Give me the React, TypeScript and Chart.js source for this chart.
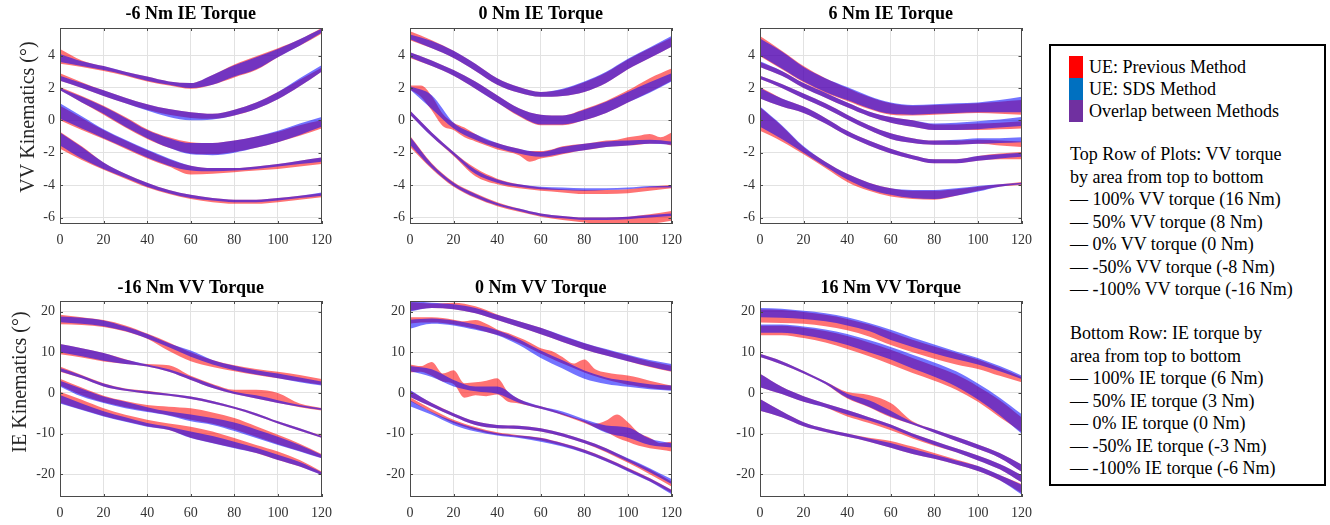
import React, { useEffect, useRef } from "react";
import { Chart, registerables } from "chart.js";

Chart.register(...registerables);

// ---------- shared axes ----------
const X10 = [0, 10, 20, 30, 40, 50, 60, 70, 80, 90, 100, 110, 120];
const X5 = [0, 5, 10, 15, 20, 25, 30, 35, 40, 45, 50, 55, 60, 65, 70, 75, 80, 85, 90, 95, 100, 105, 110, 115, 120];
const X_TICKS = [0, 20, 40, 60, 80, 100, 120];
const VV_TICKS = [-6, -4, -2, 0, 2, 4];
const IE_TICKS = [-20, -10, 0, 10, 20];

const PANEL_TITLES = ["-6 Nm IE Torque", "0 Nm IE Torque", "6 Nm IE Torque", "-16 Nm VV Torque", "0 Nm VV Torque", "16 Nm VV Torque"];
const Y_TITLES = ["VV Kinematics (°)", "IE Kinematics (°)"];

// ---------- Panel A: -6 Nm IE torque (VV kinematics) ----------
const A_RED_LO = [
  [3.5, 3.3, 3.05, 2.75, 2.4, 2.15, 1.95, 2.2, 2.65, 3.1, 3.9, 4.6, 5.35],
  [2.45, 2.0, 1.5, 1.05, 0.65, 0.35, 0.15, 0.1, 0.3, 0.7, 1.3, 2.1, 3.0],
  [1.85, 1.1, 0.35, -0.45, -1.15, -1.7, -2.05, -2.1, -1.95, -1.7, -1.35, -0.95, -0.5],
  [0.0, -0.6, -1.15, -1.75, -2.35, -2.85, -3.35, -3.3, -3.2, -3.1, -3.0, -2.85, -2.7],
  [-1.75, -2.45, -3.05, -3.6, -4.15, -4.55, -4.85, -5.05, -5.15, -5.15, -5.05, -4.9, -4.75],
];
const A_RED_HI = [
  [4.4, 3.7, 3.35, 3.0, 2.7, 2.4, 2.3, 2.8, 3.45, 3.95, 4.45, 5.0, 5.7],
  [2.9, 2.35, 1.85, 1.4, 1.0, 0.7, 0.5, 0.4, 0.65, 1.1, 1.75, 2.5, 3.25],
  [2.05, 1.5, 0.9, 0.2, -0.55, -1.05, -1.35, -1.4, -1.25, -1.0, -0.7, -0.3, 0.0],
  [0.9, 0.15, -0.6, -1.25, -1.85, -2.4, -2.8, -2.95, -2.95, -2.85, -2.7, -2.5, -2.3],
  [-0.7, -1.6, -2.6, -3.3, -3.85, -4.3, -4.6, -4.8, -4.9, -4.9, -4.8, -4.65, -4.5],
];
const A_BLUE_LO = [
  [3.6, 3.35, 3.1, 2.8, 2.45, 2.2, 2.0, 2.2, 2.7, 3.15, 3.9, 4.6, 5.4],
  [2.45, 2.0, 1.5, 1.05, 0.6, 0.2, 0.0, 0.05, 0.3, 0.7, 1.3, 2.1, 3.0],
  [1.85, 1.1, 0.4, -0.4, -1.1, -1.7, -2.1, -2.15, -2.0, -1.7, -1.35, -0.9, -0.4],
  [0.1, -0.5, -1.1, -1.7, -2.3, -2.8, -3.1, -3.15, -3.1, -3.0, -2.85, -2.7, -2.55],
  [-1.55, -2.35, -3.0, -3.55, -4.1, -4.5, -4.8, -4.95, -5.05, -5.05, -4.95, -4.8, -4.65],
];
const A_BLUE_HI = [
  [4.1, 3.65, 3.35, 3.0, 2.7, 2.4, 2.3, 2.8, 3.4, 3.9, 4.4, 5.0, 5.65],
  [2.75, 2.3, 1.85, 1.4, 1.0, 0.7, 0.5, 0.4, 0.65, 1.1, 1.75, 2.6, 3.4],
  [2.0, 1.45, 0.85, 0.15, -0.6, -1.1, -1.4, -1.4, -1.25, -1.0, -0.65, -0.2, 0.2],
  [1.05, 0.25, -0.55, -1.2, -1.8, -2.35, -2.8, -2.95, -2.95, -2.85, -2.7, -2.5, -2.3],
  [-0.75, -1.65, -2.6, -3.3, -3.85, -4.3, -4.6, -4.8, -4.9, -4.9, -4.8, -4.65, -4.45],
];

// ---------- Panel B: 0 Nm IE torque (VV kinematics) ----------
const B_RED_LO = [
  [4.95, 4.45, 3.85, 3.05, 2.2, 1.7, 1.45, 1.5, 1.75, 2.3, 3.15, 3.85, 4.55],
  [3.85, 3.35, 2.75, 1.95, 1.1, 0.25, -0.3, -0.3, 0.0, 0.45, 1.1, 1.75, 2.45],
  [1.9, 1.45, 0.6, -0.35, -0.6, -1.05, -1.3, -1.55, -1.8, -1.95, -2.15, -2.55, -2.35, -2.25, -2.1, -1.95, -1.85, -1.75, -1.65, -1.6, -1.55, -1.5, -1.45, -1.45, -1.55],
  [0.35, -1.0, -2.2, -3.45, -3.95, -4.2, -4.35, -4.45, -4.55, -4.55, -4.5, -4.35, -4.2],
  [-1.65, -3.0, -4.1, -4.8, -5.3, -5.65, -5.95, -6.15, -6.3, -6.45, -6.5, -6.4, -6.2],
];
const B_RED_HI = [
  [5.5, 4.95, 4.3, 3.5, 2.6, 2.05, 1.75, 1.9, 2.35, 2.95, 3.75, 4.45, 5.1],
  [4.2, 3.7, 3.1, 2.4, 1.55, 0.75, 0.35, 0.3, 0.7, 1.2, 1.85, 2.6, 3.2],
  [2.15, 2.15, 1.5, 0.4, -0.15, -0.45, -0.85, -1.2, -1.4, -1.6, -1.75, -1.9, -1.9, -1.8, -1.6, -1.5, -1.45, -1.35, -1.25, -1.2, -1.05, -0.95, -0.85, -1.05, -0.75],
  [0.6, -0.75, -1.95, -2.95, -3.6, -3.95, -4.15, -4.25, -4.3, -4.3, -4.25, -4.1, -4.0],
  [-0.95, -2.65, -3.8, -4.5, -5.05, -5.45, -5.75, -5.9, -6.0, -6.0, -5.95, -5.8, -5.6],
];
const B_BLUE_LO = [
  [5.0, 4.45, 3.85, 3.05, 2.2, 1.7, 1.45, 1.5, 1.75, 2.3, 3.15, 3.85, 4.55],
  [3.9, 3.35, 2.75, 1.95, 1.1, 0.3, -0.25, -0.25, 0.0, 0.45, 1.1, 1.7, 2.4],
  [1.9, 0.7, -0.5, -1.2, -1.7, -2.05, -2.25, -2.05, -1.85, -1.65, -1.55, -1.45, -1.5],
  [0.35, -1.0, -2.15, -3.3, -3.85, -4.1, -4.25, -4.3, -4.35, -4.3, -4.25, -4.15, -4.15],
  [-1.5, -2.95, -4.05, -4.75, -5.25, -5.6, -5.9, -6.05, -6.15, -6.15, -6.1, -6.0, -5.9],
];
const B_BLUE_HI = [
  [5.3, 4.9, 4.3, 3.5, 2.6, 2.05, 1.75, 1.95, 2.4, 3.0, 3.8, 4.5, 5.2],
  [4.2, 3.7, 3.1, 2.4, 1.55, 0.75, 0.35, 0.3, 0.65, 1.15, 1.75, 2.35, 2.9],
  [2.1, 1.55, -0.15, -0.85, -1.4, -1.75, -1.95, -1.65, -1.45, -1.3, -1.25, -1.2, -1.3],
  [0.6, -0.75, -1.95, -3.05, -3.65, -3.95, -4.1, -4.15, -4.2, -4.2, -4.15, -4.05, -4.05],
  [-1.0, -2.7, -3.85, -4.55, -5.1, -5.45, -5.75, -5.9, -6.0, -6.0, -5.95, -5.85, -5.75],
];

// ---------- Panel C: 6 Nm IE torque (VV kinematics) ----------
const C_RED_LO = [
  [3.95, 3.15, 2.35, 1.7, 1.2, 0.7, 0.35, 0.3, 0.35, 0.4, 0.45, 0.4, 0.35],
  [3.3, 2.75, 2.0, 1.4, 0.8, 0.25, -0.15, -0.4, -0.6, -0.6, -0.6, -0.55, -0.5],
  [2.55, 2.0, 1.35, 0.75, 0.05, -0.6, -1.15, -1.4, -1.5, -1.5, -1.45, -1.55, -1.65],
  [1.35, 0.85, 0.45, -0.2, -0.95, -1.55, -2.05, -2.4, -2.65, -2.65, -2.5, -2.4, -2.4],
  [-0.65, -1.3, -2.1, -2.95, -3.8, -4.35, -4.7, -4.85, -4.9, -4.65, -4.35, -4.1, -4.0],
];
const C_RED_HI = [
  [5.2, 4.3, 3.35, 2.6, 2.0, 1.45, 1.05, 0.9, 0.95, 1.0, 1.05, 1.15, 1.25],
  [3.6, 3.05, 2.3, 1.7, 1.1, 0.55, 0.2, 0.0, -0.25, -0.25, -0.2, -0.15, -0.05],
  [2.75, 2.25, 1.65, 1.05, 0.35, -0.3, -0.8, -1.1, -1.25, -1.25, -1.2, -1.25, -1.3],
  [2.05, 1.35, 0.85, 0.15, -0.65, -1.25, -1.75, -2.15, -2.4, -2.4, -2.2, -2.05, -1.95],
  [0.8, -0.35, -1.65, -2.55, -3.3, -3.85, -4.2, -4.35, -4.35, -4.25, -4.1, -3.95, -3.8],
];
const C_BLUE_LO = [
  [4.0, 3.2, 2.4, 1.75, 1.25, 0.75, 0.4, 0.35, 0.4, 0.45, 0.5, 0.5, 0.5],
  [3.3, 2.75, 2.0, 1.4, 0.8, 0.25, -0.15, -0.4, -0.6, -0.6, -0.55, -0.45, -0.35],
  [2.55, 2.0, 1.35, 0.75, 0.05, -0.6, -1.15, -1.4, -1.5, -1.5, -1.45, -1.4, -1.35],
  [1.35, 0.85, 0.45, -0.2, -0.95, -1.55, -2.05, -2.4, -2.65, -2.65, -2.5, -2.35, -2.25],
  [-0.4, -1.15, -2.0, -2.85, -3.65, -4.25, -4.6, -4.8, -4.85, -4.65, -4.4, -4.1, -3.95],
];
const C_BLUE_HI = [
  [5.05, 4.25, 3.3, 2.6, 2.05, 1.5, 1.1, 0.95, 1.0, 1.05, 1.1, 1.25, 1.45],
  [3.65, 3.05, 2.3, 1.7, 1.1, 0.55, 0.2, 0.0, -0.2, -0.15, -0.05, 0.05, 0.2],
  [2.75, 2.25, 1.65, 1.05, 0.35, -0.3, -0.8, -1.1, -1.25, -1.2, -1.1, -1.1, -1.05],
  [2.0, 1.35, 0.85, 0.15, -0.65, -1.25, -1.75, -2.15, -2.4, -2.4, -2.2, -2.1, -2.0],
  [0.85, -0.3, -1.6, -2.55, -3.3, -3.85, -4.2, -4.3, -4.3, -4.2, -4.05, -3.95, -3.85],
];

// ---------- Panel D: -16 Nm VV torque (IE kinematics) ----------
const D_RED_LO = [
  [16.9, 16.7, 16.2, 15.1, 13.3, 10.3, 7.8, 6.4, 5.3, 4.4, 3.6, 2.8, 2.0],
  [9.5, 8.7, 7.7, 7.1, 6.5, 5.2, 3.2, 1.2, -0.3, -1.4, -2.5, -3.5, -4.3],
  [5.2, 3.6, 1.6, 0.5, -0.2, -0.7, -1.5, -2.6, -3.9, -5.6, -7.5, -9.3, -11.0],
  [1.8, -0.6, -2.3, -3.5, -4.5, -5.5, -6.6, -7.6, -9.0, -10.8, -12.6, -14.3, -16.0],
  [-2.4, -4.1, -5.7, -7.0, -8.2, -9.1, -11.0, -12.3, -13.5, -14.8, -16.5, -18.1, -20.1],
];
const D_RED_HI = [
  [19.2, 18.6, 17.9, 16.6, 14.6, 12.4, 10.0, 8.1, 6.8, 5.9, 5.2, 4.4, 3.4],
  [12.0, 11.0, 9.8, 8.3, 7.1, 6.8, 4.2, 2.2, 0.8, 0.8, 0.0, -2.6, -3.7],
  [6.5, 4.4, 2.4, 1.1, 0.5, -0.2, -0.9, -2.0, -3.4, -5.0, -7.0, -8.7, -10.5],
  [3.5, 1.3, -0.7, -2.0, -3.0, -3.4, -3.8, -4.8, -6.2, -8.2, -10.3, -12.5, -15.0],
  [0.3, -1.7, -3.8, -5.4, -6.6, -7.5, -8.3, -9.5, -11.1, -12.8, -14.4, -16.5, -19.3],
];
const D_BLUE_LO = [
  [17.4, 17.0, 16.4, 15.2, 13.4, 11.2, 8.9, 7.0, 5.6, 4.5, 3.6, 2.6, 1.8],
  [10.0, 9.0, 7.9, 7.1, 6.5, 5.2, 3.2, 1.2, -0.3, -1.4, -2.5, -3.4, -4.2],
  [5.3, 3.6, 1.6, 0.5, -0.2, -0.7, -1.5, -2.6, -3.9, -5.6, -7.5, -9.3, -11.0],
  [1.6, -0.9, -2.5, -3.8, -4.7, -5.6, -7.0, -7.9, -9.4, -11.1, -12.8, -14.4, -16.1],
  [-2.6, -4.2, -5.8, -7.1, -8.3, -9.1, -11.1, -12.4, -13.6, -14.8, -16.5, -18.1, -20.2],
];
const D_BLUE_HI = [
  [18.8, 18.5, 17.8, 16.3, 14.5, 12.2, 10.4, 8.1, 6.7, 5.6, 4.8, 3.8, 2.8],
  [12.0, 11.0, 9.8, 8.2, 7.0, 5.8, 4.0, 2.0, 0.3, -0.6, -1.8, -3.0, -3.8],
  [6.1, 4.3, 2.3, 1.0, 0.4, -0.2, -0.9, -2.0, -3.4, -5.0, -7.0, -8.7, -10.6],
  [3.0, 1.0, -0.9, -2.2, -3.5, -4.6, -5.3, -6.2, -7.3, -9.0, -10.8, -12.8, -15.2],
  [-0.5, -2.6, -4.5, -6.0, -7.4, -8.3, -9.5, -10.6, -12.0, -13.5, -15.2, -17.0, -19.5],
];

// ---------- Panel E: 0 Nm VV torque (IE kinematics) ----------
const E_RED_LO = [
  [20.2, 20.9, 20.6, 19.6, 17.9, 16.2, 14.4, 12.5, 10.7, 9.2, 7.8, 6.4, 5.2],
  [17.0, 17.3, 17.3, 17.2, 16.8, 16.3, 15.8, 15.0, 14.3, 13.4, 12.3, 11.0, 9.6, 8.4, 7.2, 6.1, 5.0, 4.1, 3.3, 2.6, 2.0, 1.6, 1.2, 0.9, 0.7],
  [5.0, 5.2, 4.2, 2.8, 2.2, -1.2, -0.6, -0.8, -0.4, -2.2, -2.6, -3.2, -3.9, -4.6, -5.5, -6.4, -7.4, -8.5, -9.6, -11.0, -12.0, -13.0, -13.6, -14.0, -14.4],
  [-1.0, -3.4, -5.8, -7.9, -8.7, -8.9, -9.5, -10.7, -12.4, -14.6, -17.2, -20.0, -23.0],
  [-2.0, -4.8, -7.4, -9.1, -10.3, -10.9, -11.7, -13.0, -14.7, -16.8, -19.2, -21.7, -24.6],
];
const E_RED_HI = [
  [22.3, 22.0, 22.2, 21.3, 19.3, 17.6, 16.0, 14.0, 12.2, 10.6, 9.2, 7.8, 6.7],
  [18.6, 18.6, 18.6, 18.4, 18.0, 17.6, 17.9, 17.0, 15.6, 14.7, 13.6, 12.4, 11.0, 10.3, 8.8, 7.2, 8.2, 5.8, 5.0, 4.6, 4.3, 3.7, 3.0, 2.4, 1.8],
  [7.0, 6.6, 7.6, 4.8, 5.6, 2.4, 2.6, 3.0, 3.6, 0.2, -1.5, -2.6, -3.3, -4.1, -5.0, -6.0, -6.8, -7.6, -6.8, -5.3, -7.2, -9.8, -11.0, -12.3, -12.0],
  [0.5, -2.5, -5.0, -7.0, -7.9, -8.1, -8.7, -9.9, -11.6, -13.6, -16.2, -18.8, -21.8],
  [-1.1, -4.0, -6.6, -8.4, -9.7, -10.4, -11.0, -12.3, -13.9, -16.0, -18.4, -20.9, -23.8],
];
const E_BLUE_LO = [
  [20.0, 20.9, 20.6, 19.6, 17.9, 16.2, 14.4, 12.5, 10.7, 9.2, 7.8, 6.5, 5.3],
  [15.8, 17.0, 16.6, 15.5, 14.2, 11.8, 8.6, 6.0, 3.5, 2.2, 1.5, 0.9, 0.5],
  [5.3, 3.9, 1.6, 0.4, -0.2, -2.4, -3.9, -5.4, -7.2, -9.8, -11.0, -12.8, -13.4],
  [-1.0, -3.4, -5.8, -7.9, -8.7, -8.9, -9.5, -10.7, -12.4, -14.4, -16.9, -19.5, -22.4],
  [-3.3, -5.4, -7.9, -9.5, -10.5, -11.1, -12.0, -13.2, -14.8, -16.9, -19.3, -21.8, -24.9],
];
const E_BLUE_HI = [
  [22.6, 22.2, 21.8, 20.9, 19.2, 17.6, 16.0, 14.1, 12.3, 10.8, 9.4, 8.1, 7.1],
  [18.0, 18.3, 17.8, 16.8, 15.4, 13.2, 10.4, 8.0, 5.5, 3.8, 2.9, 2.1, 1.8],
  [6.6, 5.8, 3.2, 1.6, 1.6, -1.5, -3.3, -4.6, -6.5, -8.0, -8.5, -11.2, -12.4],
  [0.7, -2.5, -5.0, -7.0, -7.9, -8.1, -8.7, -9.9, -11.6, -13.6, -16.1, -18.5, -21.2],
  [-1.8, -4.7, -7.0, -8.7, -9.9, -10.5, -11.1, -12.4, -14.0, -16.1, -18.5, -21.0, -23.9],
];

// ---------- Panel F: 16 Nm VV torque (IE kinematics) ----------
const F_RED_LO = [
  [17.3, 17.2, 17.0, 16.4, 15.4, 13.9, 11.8, 10.0, 8.4, 7.0, 5.9, 4.2, 2.6],
  [14.2, 14.2, 13.5, 12.4, 10.8, 9.0, 7.0, 4.9, 3.0, 0.8, -2.2, -6.0, -9.6],
  [8.8, 7.0, 4.8, 2.2, -1.4, -3.5, -6.0, -7.8, -9.8, -11.8, -13.8, -16.0, -19.4],
  [1.4, -0.3, -2.2, -3.6, -5.8, -7.4, -9.2, -11.2, -13.0, -14.6, -16.6, -18.8, -22.0],
  [-4.4, -6.0, -8.2, -9.6, -10.8, -12.0, -13.5, -15.0, -16.2, -17.6, -19.2, -21.5, -24.6],
];
const F_RED_HI = [
  [20.5, 20.4, 19.9, 19.2, 18.2, 16.8, 15.0, 13.1, 11.4, 9.8, 8.2, 6.2, 3.9],
  [16.5, 16.5, 16.0, 15.2, 14.0, 12.4, 10.6, 8.6, 6.6, 4.5, 1.6, -1.8, -6.0],
  [9.6, 7.8, 5.4, 2.8, 0.2, -0.5, -2.5, -7.0, -9.0, -10.8, -12.7, -14.8, -17.6],
  [4.7, 1.5, -0.8, -2.6, -4.2, -6.0, -7.8, -10.0, -11.8, -13.6, -15.4, -17.5, -20.2],
  [-1.5, -4.5, -7.2, -8.8, -10.0, -11.0, -11.8, -13.2, -14.8, -16.4, -18.0, -20.2, -22.4],
];
const F_BLUE_LO = [
  [18.6, 18.5, 18.2, 17.6, 16.6, 15.2, 13.0, 11.3, 9.7, 8.3, 7.0, 5.3, 3.4],
  [14.8, 14.8, 14.2, 13.2, 11.8, 10.0, 8.2, 6.0, 4.0, 1.6, -1.6, -5.5, -10.0],
  [8.8, 7.0, 4.8, 2.2, -1.2, -3.4, -5.8, -7.8, -9.8, -11.8, -13.8, -16.0, -19.4],
  [1.4, -0.3, -2.2, -3.6, -5.3, -6.8, -8.6, -10.8, -12.8, -14.6, -16.6, -18.8, -22.0],
  [-4.4, -6.0, -8.2, -9.6, -10.8, -12.0, -13.5, -15.0, -16.2, -17.6, -19.2, -21.5, -25.0],
];
const F_BLUE_HI = [
  [20.9, 20.7, 20.2, 19.6, 18.6, 17.2, 15.5, 13.6, 11.9, 10.2, 8.6, 6.6, 4.3],
  [16.8, 16.8, 16.3, 15.6, 14.5, 13.0, 11.3, 9.4, 7.5, 5.3, 2.3, -1.2, -5.2],
  [9.6, 7.8, 5.4, 2.8, -0.2, -1.8, -4.4, -7.2, -9.0, -10.8, -12.7, -14.8, -17.6],
  [4.7, 1.5, -0.8, -2.6, -4.2, -6.0, -7.8, -10.0, -11.8, -13.6, -15.4, -17.5, -20.2],
  [-1.5, -4.5, -7.2, -8.8, -10.0, -11.2, -12.3, -13.8, -15.2, -16.6, -18.0, -20.2, -22.6],
];

// ---------- legend text ----------
const LEGEND_METHODS = ["UE: Previous Method", "UE: SDS Method", "Overlap between Methods"];
const LEGEND_COLORS = ["#ff0000", "#0070c0", "#7030a0"];
const LEGEND_TOP = [
  "Top Row of Plots: VV torque",
  "by area from top to bottom",
  "— 100% VV torque (16 Nm)",
  "— 50% VV torque (8 Nm)",
  "— 0% VV torque (0 Nm)",
  "— -50% VV torque (-8 Nm)",
  "— -100% VV torque (-16 Nm)",
];
const LEGEND_BOTTOM = [
  "Bottom Row: IE torque by",
  "area from top to bottom",
  "— 100% IE torque (6 Nm)",
  "— 50% IE torque (3 Nm)",
  "— 0% IE torque (0 Nm)",
  "— -50% IE torque (-3 Nm)",
  "— -100% IE torque (-6 Nm)",
];

const RED_FILL = "rgba(255,0,0,0.55)";
const BLUE_FILL = "rgba(0,0,255,0.55)";
const SERIF = '"Liberation Serif", "Times New Roman", serif';

function toPoints(vals: number[]) {
  const xs = vals.length === X5.length ? X5 : X10;
  return vals.map((y, i) => ({ x: xs[i], y }));
}

const framePlugin = {
  id: "frame",
  afterDraw(chart: any, _args: any, opts: any) {
    const { ctx, chartArea } = chart;
    const { left, top, right, bottom } = chartArea;
    ctx.save();
    ctx.strokeStyle = "#4a4a4a";
    ctx.lineWidth = 1;
    ctx.strokeRect(Math.round(left) + 0.5, Math.round(top) + 0.5, Math.round(right - left) - 1, Math.round(bottom - top) - 1);
    const xs = chart.scales.x;
    const ys = chart.scales.y;
    ctx.beginPath();
    xs.ticks.forEach((t: any) => {
      const px = Math.round(xs.getPixelForValue(t.value)) + 0.5;
      ctx.moveTo(px, bottom);
      ctx.lineTo(px, bottom - 3);
      ctx.moveTo(px, top);
      ctx.lineTo(px, top + 3);
    });
    ys.ticks.forEach((t: any) => {
      const py = Math.round(ys.getPixelForValue(t.value)) + 0.5;
      ctx.moveTo(left, py);
      ctx.lineTo(left + 3, py);
      ctx.moveTo(right, py);
      ctx.lineTo(right - 3, py);
    });
    ctx.stroke();
    if (opts && opts.yTitle) {
      ctx.translate(opts.yTitleX, opts.yTitleY);
      ctx.rotate(-Math.PI / 2);
      ctx.font = `20px ${SERIF}`;
      ctx.fillStyle = "#262626";
      ctx.textAlign = "center";
      ctx.textBaseline = "middle";
      ctx.fillText(opts.yTitle, 0, 0);
    }
    ctx.restore();
  },
};

type PanelProps = {
  left: number;
  top: number;
  width: number;
  height: number;
  yAxisW: number;
  padRight: number;
  titleTop: number;
  titleBottom: number;
  xAxisH: number;
  title: string;
  yTitle?: string;
  yTitleX?: number;
  yTitleY?: number;
  yMin: number;
  yMax: number;
  yTicks: number[];
  redLo: number[][];
  redHi: number[][];
  blueLo: number[][];
  blueHi: number[][];
};

function Panel(p: PanelProps) {
  const ref = useRef<HTMLCanvasElement | null>(null);
  useEffect(() => {
    if (!ref.current) return;
    const base = {
      borderWidth: 0,
      borderColor: "rgba(0,0,0,0)",
      pointRadius: 0,
      pointHoverRadius: 0,
      cubicInterpolationMode: "monotone" as const,
    };
    const datasets: any[] = [];
    p.blueLo.forEach((lo, i) => {
      datasets.push({ ...base, data: toPoints(lo), fill: false });
      datasets.push({ ...base, data: toPoints(p.blueHi[i]), fill: "-1", backgroundColor: BLUE_FILL });
    });
    p.redLo.forEach((lo, i) => {
      datasets.push({ ...base, data: toPoints(lo), fill: false });
      datasets.push({ ...base, data: toPoints(p.redHi[i]), fill: "-1", backgroundColor: RED_FILL });
    });
    const tickFont = { family: SERIF, size: 14 };
    const chart = new Chart(ref.current, {
      type: "line",
      data: { datasets },
      plugins: [framePlugin as any],
      options: {
        responsive: false,
        animation: false,
        events: [],
        layout: { padding: { left: 0, right: p.padRight, top: 0, bottom: 0 } },
        scales: {
          x: {
            type: "linear",
            min: 0,
            max: 120,
            afterBuildTicks: (s: any) => {
              s.ticks = X_TICKS.map((v) => ({ value: v }));
            },
            afterFit: (s: any) => {
              s.height = p.xAxisH;
            },
            grid: { color: "#e2e2e2", drawTicks: false, lineWidth: 1 },
            border: { display: false },
            ticks: { font: tickFont, color: "#333", padding: 8, maxRotation: 0, autoSkip: false },
          },
          y: {
            type: "linear",
            min: p.yMin,
            max: p.yMax,
            afterBuildTicks: (s: any) => {
              s.ticks = p.yTicks.map((v) => ({ value: v }));
            },
            afterFit: (s: any) => {
              s.width = p.yAxisW;
            },
            grid: { color: "#e2e2e2", drawTicks: false, lineWidth: 1 },
            border: { display: false },
            ticks: { font: tickFont, color: "#333", padding: 5, autoSkip: false },
          },
        },
        plugins: {
          legend: { display: false },
          tooltip: { enabled: false },
          title: {
            display: true,
            text: p.title,
            fullSize: false,
            color: "#000",
            font: { family: SERIF, size: 18, weight: "bold", lineHeight: 1.2 },
            padding: { top: p.titleTop, bottom: p.titleBottom },
          },
          frame: p.yTitle ? { yTitle: p.yTitle, yTitleX: p.yTitleX, yTitleY: p.yTitleY } : {},
        } as any,
      },
    });
    return () => chart.destroy();
  }, []);
  return (
    <canvas
      ref={ref}
      width={p.width}
      height={p.height}
      style={{ position: "absolute", left: p.left, top: p.top, width: p.width, height: p.height }}
    />
  );
}

const legendText: React.CSSProperties = {
  position: "absolute",
  fontFamily: SERIF,
  fontSize: 18,
  lineHeight: "22px",
  height: 22,
  whiteSpace: "nowrap",
  color: "#000",
};

export default function App() {
  const topRow = { top: 0, height: 262, titleTop: 4, titleBottom: 2.4, xAxisH: 38, yMin: -6.4, yMax: 5.7, yTicks: VV_TICKS };
  const botRow = { top: 262, height: 263, titleTop: 16, titleBottom: 1.4, xAxisH: 28, yMin: -25.6, yMax: 22.6, yTicks: IE_TICKS };
  const col1 = { left: 0, width: 340, yAxisW: 60, padRight: 15 };
  const col2 = { left: 340, width: 350, yAxisW: 70, padRight: 14 };
  const col3 = { left: 690, width: 350, yAxisW: 70, padRight: 14 };
  const topLines = [154, 176.5, 199, 221.5, 244, 266.5, 289];
  const botLines = [333, 355.5, 378, 400.5, 423, 445.5, 468];
  return (
    <div style={{ position: "absolute", left: 0, top: 0, width: 1330, height: 525, background: "#fff", overflow: "hidden" }}>
      <Panel {...topRow} {...col1} title={PANEL_TITLES[0]} yTitle={Y_TITLES[0]} yTitleX={29} yTitleY={117}
        redLo={A_RED_LO} redHi={A_RED_HI} blueLo={A_BLUE_LO} blueHi={A_BLUE_HI} />
      <Panel {...topRow} {...col2} title={PANEL_TITLES[1]}
        redLo={B_RED_LO} redHi={B_RED_HI} blueLo={B_BLUE_LO} blueHi={B_BLUE_HI} />
      <Panel {...topRow} {...col3} title={PANEL_TITLES[2]}
        redLo={C_RED_LO} redHi={C_RED_HI} blueLo={C_BLUE_LO} blueHi={C_BLUE_HI} />
      <Panel {...botRow} {...col1} title={PANEL_TITLES[3]} yTitle={Y_TITLES[1]} yTitleX={21} yTitleY={120}
        redLo={D_RED_LO} redHi={D_RED_HI} blueLo={D_BLUE_LO} blueHi={D_BLUE_HI} />
      <Panel {...botRow} {...col2} title={PANEL_TITLES[4]}
        redLo={E_RED_LO} redHi={E_RED_HI} blueLo={E_BLUE_LO} blueHi={E_BLUE_HI} />
      <Panel {...botRow} {...col3} title={PANEL_TITLES[5]}
        redLo={F_RED_LO} redHi={F_RED_HI} blueLo={F_BLUE_LO} blueHi={F_BLUE_HI} />

      <div style={{ position: "absolute", left: 1049, top: 44, width: 277, height: 442, border: "2px solid #000", boxSizing: "border-box" }} />
      {LEGEND_METHODS.map((t, i) => (
        <React.Fragment key={t}>
          <div style={{ position: "absolute", left: 1069, top: 56 + i * 22, width: 14, height: 22, background: LEGEND_COLORS[i] }} />
          <div style={{ ...legendText, left: 1089, top: 56 + i * 22 }}>{t}</div>
        </React.Fragment>
      ))}
      {LEGEND_TOP.map((t, i) => (
        <div key={t} style={{ ...legendText, left: 1070, top: topLines[i] - 11 }}>{t}</div>
      ))}
      {LEGEND_BOTTOM.map((t, i) => (
        <div key={t} style={{ ...legendText, left: 1070, top: botLines[i] - 11 }}>{t}</div>
      ))}
    </div>
  );
}
